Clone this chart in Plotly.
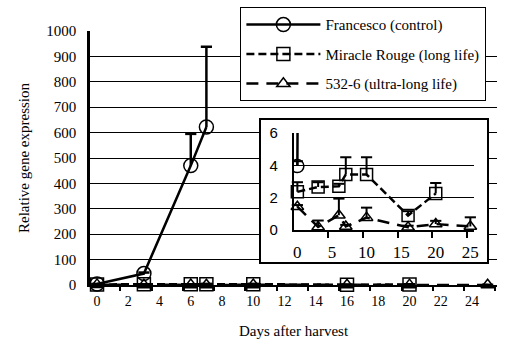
import plotly.graph_objects as go

# ---------------- data ----------------
fr_days = [0, 3, 6, 7]
fr_vals = [3.95, 45, 470, 622]
fr_err = [0.3, 4, 125, 316]

mr_days = [0, 3, 6, 7, 10, 16, 20]
mr_vals = [2.35, 2.65, 2.7, 3.43, 3.43, 0.88, 2.25]
mr_err = [0.6, 0.3, 0.15, 1.07, 1.07, 0.27, 0.65]

ul_days = [0, 3, 6, 7, 10, 16, 20, 25]
ul_vals = [1.43, 0.17, 0.9, 0.2, 0.75, 0.15, 0.35, 0.2]
ul_err = [0.1, 0.4, 1.03, 0.1, 0.62, 0.1, 0.2, 0.57]

names = ["Francesco (control)", "Miracle Rouge (long life)", "532-6 (ultra-long life)"]

main_xticks = list(range(0, 25, 2))
main_minor = [1.5 + 2 * k for k in range(13)]
main_yticks = list(range(0, 1001, 100))
inset_xticks = [0, 5, 10, 15, 20, 25]
inset_minor = [4.5, 9.5, 14.5, 19.5, 24.5]
inset_yticks = [0, 2, 4, 6]

SERIF = "Liberation Serif, Times New Roman, serif"
SANS = "Liberation Sans, Arial, sans-serif"
CLEAR = "rgba(0,0,0,0)"

series = [
    (fr_days, fr_vals, fr_err, "circle-open", "solid", 14, 13),
    (mr_days, mr_vals, mr_err, "square-open", "8px,4px", 13, 12),
    (ul_days, ul_vals, ul_err, "triangle-up-open", "12px,8px", 11.5, 11),
]


def err_lines(d, v, e):
    xs, ys = [], []
    for di, vi, ei in zip(d, v, e):
        xs += [di, di, None]
        ys += [vi, vi + ei, None]
    return xs, ys


def err_caps(d, v, e):
    return list(d), [vi + ei for vi, ei in zip(v, e)]


fig = go.Figure()


def add_series(i, d, v, e, sym, dash, ms, xa, ya, clip, legend, thick):
    ex, ey = err_lines(d, v, e)
    fig.add_trace(go.Scatter(x=ex, y=ey, mode="lines", showlegend=False, hoverinfo="skip",
                             line=dict(color="black", width=thick), cliponaxis=clip,
                             xaxis=xa, yaxis=ya))
    cx, cy = err_caps(d, v, e)
    fig.add_trace(go.Scatter(x=cx, y=cy, mode="markers", showlegend=False, hoverinfo="skip",
                             marker=dict(symbol="line-ew", size=8, color="black",
                                         line=dict(width=thick, color="black")),
                             cliponaxis=clip, xaxis=xa, yaxis=ya))
    fig.add_trace(go.Scatter(
        x=d, y=v, name=names[i], mode="lines+markers", showlegend=legend,
        line=dict(color="black", width=2.5, dash=dash),
        marker=dict(symbol=sym, size=ms, color="black", line=dict(width=1.5, color="black")),
        cliponaxis=clip, legendgroup=str(i), xaxis=xa, yaxis=ya,
    ))


# main chart traces
for i, (d, v, e, sym, dash, ms, _) in enumerate(series):
    add_series(i, d, v, e, sym, dash, ms, "x", "y", False, True, 2.5)

# white box behind inset (empty subplot)
fig.add_trace(go.Scatter(x=[None], y=[None], xaxis="x2", yaxis="y2", showlegend=False,
                         hoverinfo="skip"))

# inset traces
for i, (d, v, e, sym, dash, _, ms) in enumerate(series):
    add_series(i, d, v, e, sym, dash, ms, "x3", "y3", i == 0, False, 2)

fig.update_layout(
    width=505, height=345,
    margin=dict(l=90, r=3, t=31, b=60),
    paper_bgcolor="white", plot_bgcolor="white",
    font=dict(family=SERIF, size=15, color="black"),
    showlegend=True,
    legend=dict(
        x=0.369, y=1.094, xanchor="left", yanchor="top",
        bgcolor="white", bordercolor="black", borderwidth=1.2,
        font=dict(family=SERIF, size=15, color="black"),
        tracegroupgap=7, traceorder="grouped", itemwidth=74, entrywidth=163,
    ),
    xaxis=dict(
        domain=[0, 1], range=[-0.45, 25.6], tickmode="array", tickvals=main_xticks,
        ticks="", showgrid=False, zeroline=False, showline=True, linecolor="black",
        linewidth=2, ticklabelstandoff=2, tickfont=dict(family=SERIF, size=14),
        minor=dict(tickmode="array", tickvals=main_minor, ticks="outside", ticklen=4,
                   tickwidth=1.5, tickcolor="black", showgrid=False),
        title=dict(text="Days after harvest", font=dict(family=SERIF, size=15), standoff=18),
    ),
    yaxis=dict(
        domain=[0, 1], range=[0, 1000], tickmode="array", tickvals=main_yticks,
        ticks="outside", ticklen=8, tickcolor=CLEAR, showgrid=True, gridcolor="black",
        gridwidth=1, zeroline=False, showline=True, linecolor="black", linewidth=2.5,
        tickfont=dict(family=SERIF, size=15),
        title=dict(text="Relative gene expression", font=dict(family=SERIF, size=15), standoff=14),
    ),
    xaxis2=dict(
        domain=[0.420, 0.976], range=[0, 1], anchor="y2", showgrid=False, zeroline=False,
        showticklabels=False, ticks="", showline=True, mirror=True, linecolor="black",
        linewidth=1.5,
    ),
    yaxis2=dict(
        domain=[0.0906, 0.6496], range=[0, 1], anchor="x2", showgrid=False, zeroline=False,
        showticklabels=False, ticks="", showline=True, mirror=True, linecolor="black",
        linewidth=1.5,
    ),
    xaxis3=dict(
        domain=[0.501, 0.943], range=[-0.5, 25.5], anchor="y3", tickmode="array",
        tickvals=inset_xticks, ticks="", showgrid=False, zeroline=False, showline=True,
        linecolor="black", linewidth=2, ticklabelstandoff=6,
        tickfont=dict(family=SERIF, size=17),
        minor=dict(tickmode="array", tickvals=inset_minor, ticks="outside", ticklen=6,
                   tickwidth=1.5, tickcolor="black", showgrid=False),
    ),
    yaxis3=dict(
        domain=[0.2177, 0.598], range=[0, 6], anchor="x3", tickmode="array",
        tickvals=inset_yticks, ticks="outside", ticklen=11, tickcolor=CLEAR,
        showgrid=True, gridcolor="black", gridwidth=1,
        zeroline=False, showline=True, linecolor="black", linewidth=2,
        tickfont=dict(family=SANS, size=15),
    ),
)

fig.write_html("out.html")
